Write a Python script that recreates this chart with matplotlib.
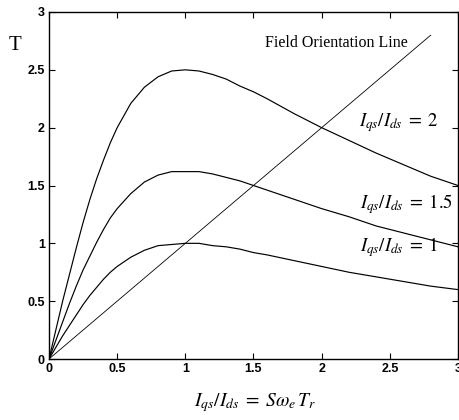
import matplotlib
matplotlib.use("Agg")
import matplotlib.pyplot as plt

plt.rcParams['mathtext.fontset'] = 'stix'

slip = [0, 0.05, 0.1, 0.15, 0.2, 0.25, 0.3, 0.35, 0.4, 0.45, 0.5, 0.6, 0.7, 0.8, 0.9, 1.0,
        1.1, 1.2, 1.3, 1.4, 1.5, 1.6, 1.8, 2.0, 2.2, 2.4, 2.6, 2.8, 3.0]
torque_1 = [0, 0.10, 0.20, 0.29, 0.38, 0.47, 0.55, 0.62, 0.69, 0.75, 0.80, 0.88, 0.94, 0.98,
            0.99, 1.00, 1.00, 0.98, 0.97, 0.95, 0.92, 0.90, 0.85, 0.80, 0.75, 0.71, 0.67,
            0.63, 0.60]
torque_15 = [0, 0.16, 0.32, 0.48, 0.63, 0.77, 0.89, 1.01, 1.12, 1.22, 1.30, 1.43, 1.53, 1.59,
             1.62, 1.62, 1.62, 1.60, 1.57, 1.54, 1.50, 1.46, 1.38, 1.30, 1.23, 1.15, 1.09,
             1.03, 0.97]
torque_2 = [0, 0.25, 0.50, 0.73, 0.96, 1.18, 1.38, 1.56, 1.72, 1.87, 2.00, 2.21, 2.35, 2.44,
            2.49, 2.50, 2.49, 2.46, 2.42, 2.36, 2.31, 2.25, 2.12, 2.00, 1.89, 1.78, 1.68,
            1.58, 1.50]
field_x = [0, 2.8]
field_y = [0, 2.8]
ticks = [0, 0.5, 1, 1.5, 2, 2.5, 3]
tick_labels = ['0', '0.5', '1', '1.5', '2', '2.5', '3']

fig = plt.figure(figsize=(4.6, 4.2), dpi=100)
ax = fig.add_axes([49/460, 61/420, 409/460, 347/420])

for t in (torque_1, torque_15, torque_2):
    ax.plot(slip, t, color='black', lw=0.85)
ax.plot(field_x, field_y, color='black', lw=0.6)

ax.set_xlim(0, 3)
ax.set_ylim(0, 3)
ax.set_xticks(ticks)
ax.set_yticks(ticks)
ax.set_xticklabels(tick_labels)
ax.set_yticklabels(tick_labels)
ax.tick_params(direction='in', top=True, right=True, length=4, width=0.8, pad=3)
for lab in ax.get_xticklabels() + ax.get_yticklabels():
    lab.set_fontfamily('Liberation Sans')
    lab.set_fontweight('bold')
    lab.set_fontsize(9)
for s in ax.spines.values():
    s.set_linewidth(1.0)

serif = 'Liberation Serif'
ax.text(265/460, 1 - 43/420, 'Field Orientation Line', transform=fig.transFigure,
        fontfamily=serif, fontsize=11.5, ha='left', va='center')
ax.text(359/460, 1 - 123/420, r'$I_{qs}/I_{ds}\;=\;2$', transform=fig.transFigure,
        fontsize=13.5, ha='left', va='center')
ax.text(360/460, 1 - 204/420, r'$I_{qs}/I_{ds}\;=\;1.5$', transform=fig.transFigure,
        fontsize=13.5, ha='left', va='center')
ax.text(360/460, 1 - 247/420, r'$I_{qs}/I_{ds}\;=\;1$', transform=fig.transFigure,
        fontsize=13.5, ha='left', va='center')
fig.text(15/460, 1 - 45/420, 'T', fontfamily=serif, fontsize=15, ha='center', va='center')
fig.text(255/460, 1 - 403/420, r'$I_{qs}/I_{ds}\;=\;S\omega_e\,T_r$',
         fontsize=14, ha='center', va='center')

fig.savefig('out.png', dpi=100)
